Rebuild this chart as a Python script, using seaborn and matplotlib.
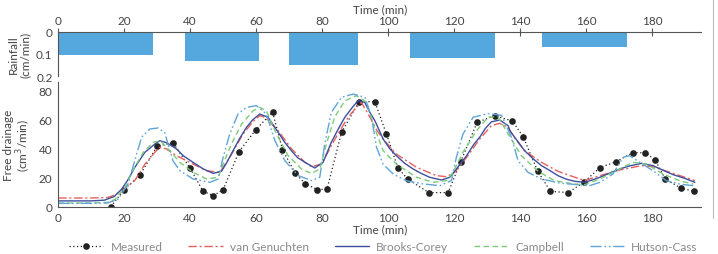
import numpy as np
import pandas as pd
import matplotlib
matplotlib.use("Agg")
import matplotlib.pyplot as plt
from matplotlib.lines import Line2D
import seaborn as sns

sns.set_style("white")
plt.rcParams['font.family'] = ['Lato', 'DejaVu Sans']

# rainfall pulses (start, end, intensity cm/min)
rain_start = [0, 38.4, 70, 106.7, 146.8]
rain_end = [28.8, 60.9, 91, 132.3, 172.5]
rain_rate = [0.103, 0.134, 0.150, 0.120, 0.067]

# measured drainage
meas_t = [16, 19.9, 24.8, 30, 34.8, 39.9, 43.9, 47, 50, 54.8, 59.9, 65, 68, 71.9, 74.9,
          78.6, 81.5, 85.9, 91.2, 96, 99.5, 103, 106, 112.4, 118.2, 122, 127, 132.3,
          137.7, 141, 145.3, 149.2, 154.6, 159.3, 164.2, 169, 174.2, 178, 181, 184,
          188.7, 192.7]
meas_q = [0, 11.7, 21.8, 41.8, 44.1, 26.9, 10.8, 7.6, 11.7, 37.9, 53.1, 65.3, 39.3, 23,
          15.9, 11.7, 12.2, 51.3, 72.4, 72.4, 50.1, 26.7, 18.9, 9.7, 9.7, 31, 58.2, 62.8,
          59.1, 48, 24.8, 10.6, 9.7, 16.8, 26.9, 31, 37.2, 37.2, 32.2, 19.1, 12.9, 10.6]

# van Genuchten
vg_t = [0, 5, 10, 15, 17, 19.2, 21, 23.2, 26.3, 29.3, 30.8, 32.8, 36, 40.9, 45, 49,
        52, 56, 59, 61.1, 62.6, 66.7, 70.7, 74.8, 76.8, 79.8, 82.8, 85, 87.9, 90, 91.9,
        94.5, 96.5, 98.5, 102.5, 108.6, 114.7, 117.7, 120.2, 123.8, 127.8, 131.3,
        133.8, 136.4, 138.5, 141.4, 146.5, 151.5, 156.6, 159.6, 164.2, 170.2, 176.8,
        180.3, 186.4, 193]
vg_q = [6, 6, 6, 6.3, 8, 11, 14, 17.9, 29.4, 37.5, 41, 39.8, 35, 29.4, 24.8, 23.7,
        34, 50, 58.5, 62.8, 61.7, 52.4, 40, 30.6, 27.6, 29.4, 42, 51, 61.7, 67.5, 72,
        61.7, 53, 46.7, 36.3, 27.2, 21.4, 20.7, 23.7, 34, 46.7, 55.9, 57.5, 54.7,
        47, 38.6, 30.6, 24.4, 20.3, 18, 21.4, 25.3, 28.3, 27.6, 23, 18]

# Brooks-Corey
bc_t = [0, 5, 10, 14, 17, 19.2, 21, 23.2, 26.3, 29.3, 30.8, 33, 35.9, 38, 40.9, 44,
        47, 49.5, 51, 53, 55, 57.1, 59, 61.1, 63.6, 65, 66.7, 68.5, 70.7, 72.5, 74.8,
        77.8, 80.3, 82.8, 85, 86.9, 89, 90.9, 92.9, 94.5, 96, 98.5, 100.5, 102.5, 105,
        107.6, 110, 112.6, 116.2, 118.7, 120.7, 123.8, 126, 127.8, 129.5, 131.3, 133.8,
        135, 136.4, 137, 138.4, 141.4, 144, 146.5, 149, 151.5, 154, 156.6, 159.6, 162,
        164.2, 167, 170.2, 173, 176.8, 180.3, 183, 186.4, 190, 193]
bc_q = [4, 4, 4, 4.5, 7, 12, 18, 27, 37.5, 43.2, 45.5, 44, 39.8, 35, 30.6, 26, 23,
        24.4, 30, 38.6, 47, 54.8, 60, 63.9, 61.7, 57, 51.3, 45, 38.6, 34, 30.6, 26.7,
        30.6, 44.4, 54, 61.7, 68, 73.1, 72, 65, 59.3, 46.7, 40, 35.2, 30, 26, 23, 20.3,
        18.4, 20.3, 26, 35.2, 43, 48, 54, 58.5, 59.8, 58, 55.9, 52, 47.8, 38.6, 33,
        28.3, 25, 21.4, 19, 17.5, 16.8, 18.5, 20.3, 23, 26, 28, 29.9, 28.3, 25.5, 22.1,
        19.5, 16.8]

# Campbell
cb_t = [0, 5, 10, 15, 17.2, 20.2, 23.2, 25.8, 28.8, 31, 33.8, 36.9, 40.9, 45, 48.5,
        50, 52.5, 55.6, 59.1, 61.1, 63.1, 65.7, 69.7, 73.8, 76.8, 79.3, 81.3, 83.8,
        86.9, 90.4, 93.5, 95.5, 98.5, 102.5, 108.6, 113.7, 117.7, 119.7, 122.7, 126.8,
        130.3, 133.3, 136.4, 140.4, 145.5, 150.5, 156.6, 159.6, 164.2, 170.2, 174.2,
        178.3, 183.3, 188.4, 192.5]
cb_q = [2.5, 2.5, 2.5, 3, 5, 13.4, 27.2, 37.5, 44.4, 45.5, 38.6, 30.6, 23.7, 19.1,
        20.3, 29.4, 43.2, 57, 66.2, 68.5, 66.2, 52.4, 35.2, 25.9, 22.9, 26, 43.2, 61.7,
        73.1, 76.6, 72, 57, 38.6, 29.4, 20.3, 16.8, 18, 23.7, 37.5, 52.4, 61.7, 62.2,
        50.1, 35.2, 24.4, 17.9, 15.6, 15.2, 19.1, 26, 30.6, 29.4, 22.6, 17.9, 15.6]

# Hutson-Cass
hc_t = [0, 5, 10, 15, 18.2, 21.2, 23.2, 25.3, 27.8, 30.3, 32.3, 34.8, 36.9, 40.9,
        46, 48.5, 50, 52, 54.5, 57.1, 60.1, 63.1, 65.7, 68.7, 72.8, 76.8, 79.3, 80.8,
        82.8, 85.9, 89.4, 93, 95, 96.5, 98.5, 101.5, 105.6, 110.6, 115.7, 119.2, 120.7,
        122.7, 125.8, 130.3, 134.4, 137.4, 139.4, 142.4, 146.5, 152.5, 158.6, 161.1,
        164.2, 168.2, 171.2, 173.2, 176.3, 180.3, 184.4, 188.4, 192.5]
hc_q = [2.3, 2.3, 2.3, 2.6, 5.3, 15.7, 31.7, 47.9, 53.6, 54.3, 51, 31.7, 24.8, 19.1,
        16.8, 19.1, 34, 50.1, 63.9, 68.5, 69.7, 63.9, 45.5, 31.7, 21.4, 18, 20.3, 43.2,
        65.1, 75.4, 77.7, 75.4, 61.7, 41, 29.4, 22.6, 17.9, 15.7, 14.5, 18, 34, 50.1,
        61.7, 64.2, 63, 47.8, 31.7, 23.7, 19.1, 16.1, 15, 14.5, 16.8, 22.6, 34, 35.2,
        30.6, 24.8, 17.9, 15.6, 14.5]

xticks = [0, 20, 40, 60, 80, 100, 120, 140, 160, 180]
tick_color = "#444444"
rain_color = "#55a8dd"
series = [
    ("van Genuchten", vg_t, vg_q, "#e8605c", (0, (6, 2, 1.5, 2))),
    ("Brooks-Corey", bc_t, bc_q, "#3d4f9f", "-"),
    ("Campbell", cb_t, cb_q, "#7ccb78", (0, (4, 2.5))),
    ("Hutson-Cass", hc_t, hc_q, "#5fa5d8", (0, (8, 2, 1.2, 2, 1.2, 2))),
]

fig = plt.figure(figsize=(7.18, 2.55), dpi=100)
ax_r = fig.add_axes([0.081, 0.698, 0.896, 0.173])
ax = fig.add_axes([0.081, 0.1855, 0.896, 0.489])

# rainfall panel
ax_r.bar(rain_start, rain_rate, width=np.array(rain_end) - np.array(rain_start),
         align="edge", color=rain_color, edgecolor="none")
ax_r.set_xlim(0, 195)
ax_r.set_ylim(0.2, 0)
ax_r.xaxis.tick_top()
ax_r.xaxis.set_label_position("top")
ax_r.set_xticks(xticks)
ax_r.set_yticks([0, 0.1, 0.2])
ax_r.set_yticklabels(["0", "0.1", "0.2"])
ax_r.set_xlabel("Time (min)", fontsize=8.5, color=tick_color, labelpad=2)
ax_r.set_ylabel("Rainfall\n(cm/min)", fontsize=8.5, color=tick_color, labelpad=4,
                linespacing=1.1)
for s in ["bottom", "right"]:
    ax_r.spines[s].set_visible(False)
for s in ["top", "left"]:
    ax_r.spines[s].set_color("#555555")
    ax_r.spines[s].set_linewidth(0.8)
ax_r.tick_params(axis="both", direction="inout", length=6, width=0.8,
                 colors="#555555", labelcolor=tick_color, labelsize=8.5, pad=1)

# drainage panel
df_meas = pd.DataFrame({"t": meas_t, "q": meas_q})
sns.lineplot(data=df_meas, x="t", y="q", ax=ax, color="#222222", linestyle=(0, (1, 2)),
             linewidth=0.9, marker="o", markersize=4.8, markeredgewidth=0, sort=False)
for name, tt, qq, col, ls in series:
    d = pd.DataFrame({"t": tt, "q": qq})
    sns.lineplot(data=d, x="t", y="q", ax=ax, color=col, linestyle=ls, linewidth=1.0,
                 sort=False)

ax.set_xlim(0, 195)
ax.set_ylim(0, 86)
ax.set_xticks(xticks)
ax.set_yticks([0, 20, 40, 60, 80])
ax.set_xlabel("Time (min)", fontsize=8.5, color=tick_color, labelpad=0)
ax.set_ylabel("Free drainage\n(cm$^3$/min)", fontsize=8.5, color=tick_color, labelpad=4,
              linespacing=1.1)
for s in ["top", "right"]:
    ax.spines[s].set_visible(False)
for s in ["bottom", "left"]:
    ax.spines[s].set_color("#555555")
    ax.spines[s].set_linewidth(0.8)
ax.tick_params(axis="both", direction="inout", length=6, width=0.8,
               colors="#555555", labelcolor=tick_color, labelsize=8.5, pad=1)

handles = [Line2D([], [], color="#222222", linestyle=(0, (1, 2)), linewidth=0.9,
                  marker="o", markersize=4.8, markeredgewidth=0)]
labels = ["Measured"]
for name, tt, qq, col, ls in series:
    handles.append(Line2D([], [], color=col, linestyle=ls, linewidth=1.0))
    labels.append(name)
fig.legend(handles, labels, loc="lower center", bbox_to_anchor=(0.534, -0.035), ncol=5,
           frameon=False, fontsize=8.5, labelcolor="#8a8a8a", handlelength=2.9,
           columnspacing=2.2, handletextpad=0.6)

fig.add_artist(Line2D([0.993, 0.993], [0.14, 1.0], transform=fig.transFigure,
                      color="#bbbbbb", linewidth=0.8))

fig.savefig("out.png", dpi=100)
